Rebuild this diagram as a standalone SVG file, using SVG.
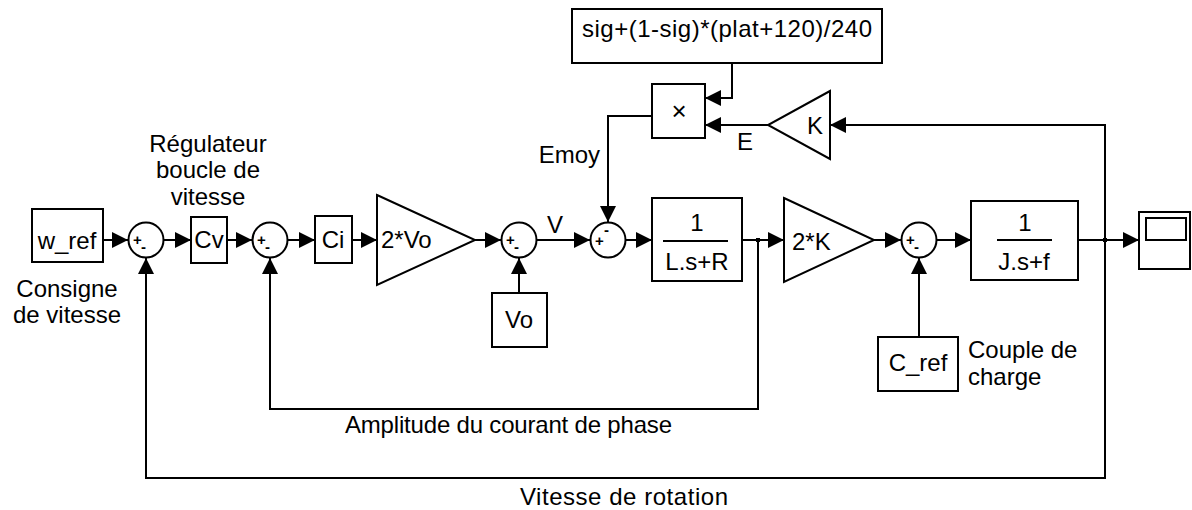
<svg xmlns="http://www.w3.org/2000/svg" width="1192" height="510" viewBox="0 0 1192 510">
<style>
.blk{fill:#fff;stroke:#000;stroke-width:2}
.w{fill:none;stroke:#000;stroke-width:2}
text{font-family:"Liberation Sans",Arial,sans-serif;font-size:24px;fill:#000}
.c{text-anchor:middle}
.s{font-size:15px;font-weight:bold}
</style>
<defs>
<marker id="ar" markerUnits="userSpaceOnUse" markerWidth="17" markerHeight="16" refX="16" refY="8" orient="auto">
<path d="M0,0 L16,8 L0,16 z" fill="#000"/>
</marker>
</defs>
<rect width="1192" height="510" fill="#fff"/>

<g id="connectors">
<path class="w" marker-end="url(#ar)" d="M103,240 H128"/>
<path class="w" marker-end="url(#ar)" d="M164,240 H191"/>
<path class="w" marker-end="url(#ar)" d="M227,240 H252"/>
<path class="w" marker-end="url(#ar)" d="M288,240 H315"/>
<path class="w" marker-end="url(#ar)" d="M352,240 H377"/>
<path class="w" marker-end="url(#ar)" d="M475,240 H501"/>
<path class="w" marker-end="url(#ar)" d="M537,240 H590"/>
<path class="w" marker-end="url(#ar)" d="M626,240 H652"/>
<path class="w" marker-end="url(#ar)" d="M742,240 H784"/>
<path class="w" marker-end="url(#ar)" d="M758,240 V409 H270 V258"/>
<path class="w" marker-end="url(#ar)" d="M874,240 H901"/>
<path class="w" marker-end="url(#ar)" d="M937,240 H971"/>
<path class="w" marker-end="url(#ar)" d="M1078,240 H1139"/>
<path class="w" marker-end="url(#ar)" d="M1105,240 V478 H146 V258"/>
<path class="w" marker-end="url(#ar)" d="M1105,240 V125 H830"/>
<path class="w" marker-end="url(#ar)" d="M768,125 H705"/>
<path class="w" marker-end="url(#ar)" d="M732,63 V98 H705"/>
<path class="w" marker-end="url(#ar)" d="M652,116 H608 V222"/>
<path class="w" marker-end="url(#ar)" d="M519,293 V258"/>
<path class="w" marker-end="url(#ar)" d="M919,337 V258"/>
<rect x="756" y="238" width="4" height="4" fill="#000"/>
<rect x="1103" y="238" width="4" height="4" fill="#000"/>
<text x="547" y="233">V</text>
<text x="600" y="163" style="text-anchor:end">Emoy</text>
<text x="737" y="150">E</text>
<text x="345" y="433" textLength="327" lengthAdjust="spacing">Amplitude du courant de phase</text>
<text x="520" y="505" textLength="208" lengthAdjust="spacing">Vitesse de rotation</text>
</g>

<g id="w_ref">
<rect class="blk" x="32" y="209" width="71" height="53"/>
<text class="c" x="67" y="249">w_ref</text>
<text class="c" x="67" y="297">Consigne</text>
<text class="c" x="67" y="323">de vitesse</text>
</g>

<g id="sum1">
<circle class="blk" cx="146" cy="240" r="17.5"/>
<text class="s" x="133" y="245">+</text>
<text class="s" x="141" y="252">-</text>
</g>

<g id="Cv">
<rect class="blk" x="191" y="217" width="36" height="46"/>
<text class="c" x="209" y="248">Cv</text>
<text class="c" x="208" y="152">Régulateur</text>
<text class="c" x="208" y="178">boucle de</text>
<text class="c" x="208" y="205">vitesse</text>
</g>

<g id="sum2">
<circle class="blk" cx="270" cy="240" r="17.5"/>
<text class="s" x="257" y="245">+</text>
<text class="s" x="265" y="252">-</text>
</g>

<g id="Ci">
<rect class="blk" x="315" y="216" width="37" height="47"/>
<text class="c" x="333" y="248">Ci</text>
</g>

<g id="gain_2Vo">
<path class="blk" d="M377,195 L475,240 L377,285 z"/>
<text x="381" y="248">2*Vo</text>
</g>

<g id="sum3">
<circle class="blk" cx="519" cy="240" r="17.5"/>
<text class="s" x="506" y="245">+</text>
<text class="s" x="514" y="252">-</text>
</g>

<g id="Vo">
<rect class="blk" x="492" y="293" width="55" height="54"/>
<text class="c" x="519" y="328">Vo</text>
</g>

<g id="sum4">
<circle class="blk" cx="608" cy="240" r="17.5"/>
<text class="s" x="595" y="246">+</text>
<text class="s" x="604" y="235">-</text>
</g>

<g id="formula">
<rect class="blk" x="572" y="9" width="310" height="54"/>
<text class="c" x="727" y="37" textLength="290" lengthAdjust="spacing">sig+(1-sig)*(plat+120)/240</text>
</g>

<g id="product">
<rect class="blk" x="652" y="84" width="53" height="54"/>
<text class="c" x="679" y="120" style="font-size:26px">×</text>
</g>

<g id="gain_K">
<path class="blk" d="M830,91 L768,125 L830,159 z"/>
<text class="c" x="815" y="134">K</text>
</g>

<g id="elec">
<rect class="blk" x="652" y="198" width="90" height="83"/>
<text class="c" x="697" y="231">1</text>
<line class="w" x1="663" y1="241" x2="728" y2="241"/>
<text class="c" x="697" y="270">L.s+R</text>
</g>

<g id="gain_2K">
<path class="blk" d="M784,198 L874,240 L784,282 z"/>
<text x="792" y="250">2*K</text>
</g>

<g id="sum5">
<circle class="blk" cx="919" cy="240" r="17.5"/>
<text class="s" x="906" y="245">+</text>
<text class="s" x="914" y="252">-</text>
</g>

<g id="C_ref">
<rect class="blk" x="878" y="337" width="80" height="54"/>
<text class="c" x="918" y="371">C_ref</text>
<text x="968" y="358">Couple de</text>
<text x="968" y="385">charge</text>
</g>

<g id="meca">
<rect class="blk" x="971" y="201" width="107" height="79"/>
<text class="c" x="1025" y="231">1</text>
<line class="w" x1="997" y1="240" x2="1052" y2="240"/>
<text class="c" x="1024" y="270">J.s+f</text>
</g>

<g id="scope">
<rect class="blk" x="1139" y="212" width="51" height="57"/>
<rect class="blk" x="1146" y="218" width="40" height="22"/>
</g>
</svg>
